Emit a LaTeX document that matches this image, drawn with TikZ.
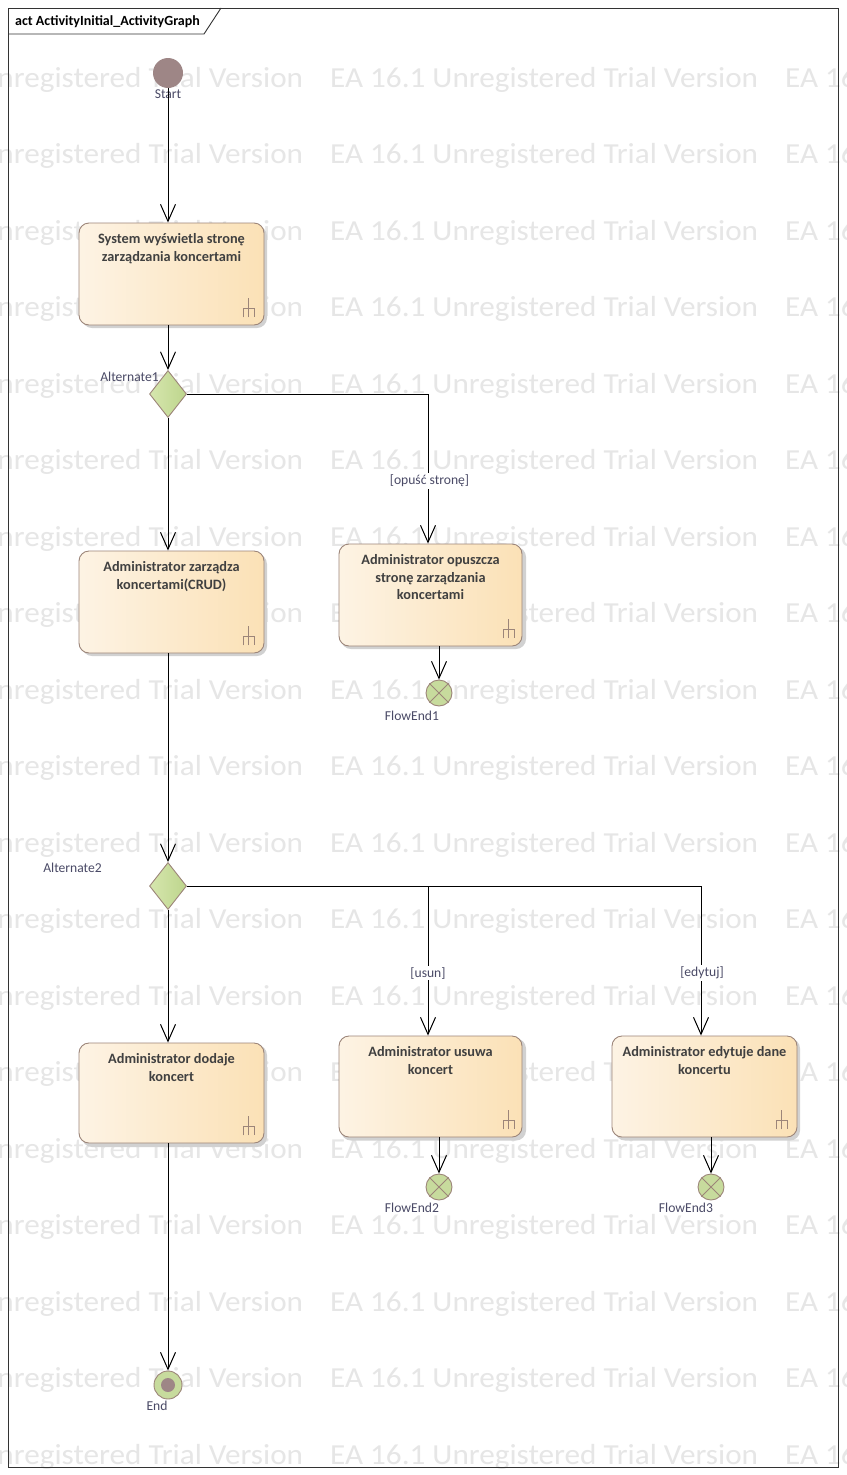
\documentclass[tikz,border=0pt]{standalone}
\usepackage{fontspec}
\setmainfont{Carlito}
\usetikzlibrary{arrows.meta,shapes.geometric,positioning,calc}
\definecolor{boxL}{HTML}{FDF3E4}
\definecolor{boxR}{HTML}{FBE1B6}
\definecolor{brd}{HTML}{9C8579}
\definecolor{grL}{HTML}{D6E6AE}
\definecolor{grR}{HTML}{BDD58C}
\definecolor{stc}{HTML}{9E8686}
\definecolor{lbl}{HTML}{4A4A66}
\definecolor{wm}{HTML}{E6E6E6}
\tikzset{
  x=1pt, y=-1pt,
  actbox/.style={rectangle, rounded corners=10pt, draw=brd, line width=0.9pt,
    left color=boxL, right color=boxR, minimum width=185pt, minimum height=102pt, inner sep=0pt},
  acttext/.style={anchor=north, align=center, font=\fontsize{14.3}{17.8}\selectfont\bfseries, text=black!75, inner sep=0pt},
  shadowbox/.style={rectangle, rounded corners=10pt, fill=black!18, draw=none, minimum width=185pt, minimum height=102pt, inner sep=0pt},
  decision/.style={diamond, draw=brd, line width=0.9pt, left color=grL, right color=grR,
    minimum width=37pt, minimum height=47pt, inner sep=0pt},
  flowend/.style={circle, draw=brd, line width=0.9pt, fill=grR!85!white, minimum size=26pt, inner sep=0pt},
  small/.style={font=\fontsize{13.6}{15}\selectfont, text=lbl, inner sep=1pt},
  guard/.style={font=\fontsize{13.6}{15}\selectfont, text=lbl, fill=white, inner sep=1.5pt},
  flow/.style={draw=black, line width=1pt, -{Straight Barb[length=17pt,width=15pt,line width=1pt]}},
  wmark/.style={font=\fontsize{29}{30}\selectfont, text=wm, anchor=base west, inner sep=0pt},
  fork/.pic={\draw[brd, line width=0.9pt] (0pt,0pt) -- (0pt,19pt)
      (-5.5pt,0pt) -- (-5.5pt,9pt) -- (5.5pt,9pt) -- (5.5pt,0pt);}
}
\begin{document}
\begin{tikzpicture}
\useasboundingbox (0,0) rectangle (846,1475);
\fill[white] (0,0) rectangle (846,1475);
% watermark
\begin{scope}
\clip (0,0) rectangle (846,1475);
\foreach \r in {0,...,18}{
  \foreach \c in {-125,330,785}{
    \node[wmark] at (\c, 87+76.5*\r) {\scalebox{1.075}[1]{EA 16.1 Unregistered Trial Version}};
  }
}
\end{scope}
% frame
\draw[black!80, line width=0.9pt] (8,8) rectangle (838,1467);
\draw[black!80, line width=0.9pt] (8,34) -- (204,34) -- (221,8);
\node[anchor=base west, font=\fontsize{14}{15}\selectfont\bfseries, inner sep=0pt] (title) at (15,25.5) {act ActivityInitial\_ActivityGraph};

% start
\node[circle, fill=stc, minimum size=30pt, inner sep=0pt] (start) at (168,73) {};
\node[small] (startl) at (168,94) {Start};

% shadows
\foreach \cx/\cy in {171.5/274, 171.5/602, 430.5/595, 171.5/1093, 430.5/1086.5, 704.5/1086.5}{
  \node[shadowbox] at (\cx+3,\cy+3) {};
}

% boxes
\node[actbox] (b1) at (171.5,274) {};
\node[acttext] (b1t) at ([yshift=-10.5pt]b1.north) {System wyświetla stronę\\zarządzania koncertami};
\pic at ([xshift=-16pt,yshift=8pt]b1.south east) {fork};

\node[actbox] (b2) at (171.5,602) {};
\node[acttext] (b2t) at ([yshift=-10.5pt]b2.north) {Administrator zarządza\\koncertami(CRUD)};
\pic at ([xshift=-16pt,yshift=8pt]b2.south east) {fork};

\node[actbox, minimum width=183pt] (b3) at (430.5,595) {};
\node[acttext] (b3t) at ([yshift=-10.5pt]b3.north) {Administrator opuszcza\\stronę zarządzania\\koncertami};
\pic at ([xshift=-14pt,yshift=8pt]b3.south east) {fork};

\node[actbox, minimum height=100pt] (b4) at (171.5,1093) {};
\node[acttext] (b4t) at ([yshift=-10.5pt]b4.north) {Administrator dodaje\\koncert};
\pic at ([xshift=-16pt,yshift=8pt]b4.south east) {fork};

\node[actbox, minimum width=183pt, minimum height=101pt] (b5) at (430.5,1086.5) {};
\node[acttext] (b5t) at ([yshift=-10.5pt]b5.north) {Administrator usuwa\\koncert};
\pic at ([xshift=-14pt,yshift=8pt]b5.south east) {fork};

\node[actbox, minimum height=101pt] (b6) at (704.5,1086.5) {};
\node[acttext] (b6t) at ([yshift=-10.5pt]b6.north) {Administrator edytuje dane\\koncertu};
\pic at ([xshift=-16pt,yshift=8pt]b6.south east) {fork};

% decisions
\node[decision] (d1) at (168,394) {};
\node[small, anchor=east] (d1l) at (160,377) {Alternate1};
\node[decision] (d2) at (168,886) {};
\node[small, anchor=east] (d2l) at (103,868) {Alternate2};

% flow ends
\foreach \n/\x/\y in {fe1/439/693, fe2/439/1187, fe3/711/1187}{
  \node[flowend] (\n) at (\x,\y) {};
  \draw[brd, line width=0.9pt] (\n.north east) -- (\n.south west) (\n.north west) -- (\n.south east);
}
\node[small] (fe1l) at (412,716) {FlowEnd1};
\node[small] (fe2l) at (412,1208) {FlowEnd2};
\node[small] (fe3l) at (686,1208) {FlowEnd3};

% end
\node[circle, draw=brd, line width=0.9pt, fill=grR!85!white, minimum size=28pt, inner sep=0pt] (end) at (168,1385) {};
\node[circle, fill=stc, minimum size=14pt, inner sep=0pt] (endin) at (168,1385) {};
\node[small] (endl) at (157,1406) {End};

% flows
\draw[flow] (start.south) -- (b1.north -| start);
\draw[flow] (b1.south -| d1) -- (d1.north);
\draw[flow] (d1.south) -- (b2.north -| d1);
\draw[flow] (d1.east) -| (b3.north -| 428,0);
\node[guard] (g1) at (429.5,481) {[opuść stronę]};
\draw[flow] (b3.south -| fe1) -- (fe1.north);
\draw[flow] (b2.south -| d2) -- (d2.north);
\draw[flow] (d2.south) -- (b4.north -| d2);
\draw[flow] (d2.east) -| (b5.north -| 428,0);
\draw[flow] (d2.east) -| (b6.north -| 701,0);
\node[guard] (g2) at (428,973) {[usun]};
\node[guard] (g3) at (702,973) {[edytuj]};
\draw[flow] (b5.south -| fe2) -- (fe2.north);
\draw[flow] (b6.south -| fe3) -- (fe3.north);
\draw[flow] (b4.south -| end) -- (end.north);
\end{tikzpicture}
\end{document}
